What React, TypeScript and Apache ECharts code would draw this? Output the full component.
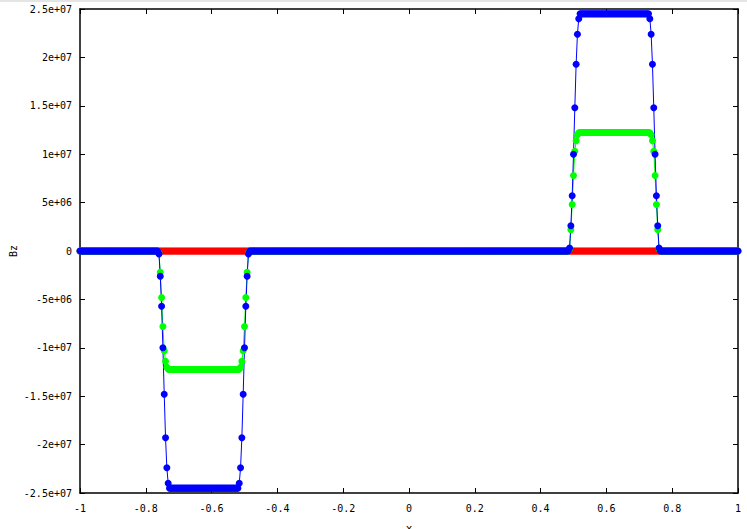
import React, { useEffect, useRef } from "react";
import * as echarts from "echarts";

// Mesh: x from -1 to 1, 501 nodes
const xFirst = -1;
const xStep = 0.004;
const nodeCount = 501;

// Run lengths of the regions along the mesh (node counts)
const zeroLeftCount = 60;
const plateauCount = 53;
const zeroMiddleCount = 243;
const zeroRightCount = 60;

// Values (Bz)
const redLevel = 0;
const blueEdge = [3e5, 2.6e6, 5.7e6, 1.0e7, 1.48e7, 1.93e7, 2.24e7, 2.4e7];
const bluePlateau = 2.45e7;
const greenEdge = [2e5, 2.2e6, 4.8e6, 7.8e6, 1.03e7, 1.14e7, 1.2e7, 1.22e7];
const greenPlateau = 1.225e7;

const xTicks = [-1, -0.8, -0.6, -0.4, -0.2, 0, 0.2, 0.4, 0.6, 0.8, 1];
const yMin = -2.5e7;
const yMax = 2.5e7;
const yInterval = 5e6;

function fill(n: number, v: number): number[] {
  return new Array(n).fill(v);
}

function profile(edge: number[], plateau: number): number[] {
  const neg = edge.map((v) => -v);
  const rev = [...edge].reverse();
  return [
    ...fill(zeroLeftCount, 0),
    ...neg,
    ...fill(plateauCount, -plateau),
    ...[...neg].reverse(),
    ...fill(zeroMiddleCount, 0),
    ...edge,
    ...fill(plateauCount, plateau),
    ...rev,
    ...fill(zeroRightCount, 0),
  ];
}

function toPairs(vals: number[]): number[][] {
  return vals.slice(0, nodeCount).map((v, i) => [+(xFirst + i * xStep).toFixed(4), v]);
}

function fmtExp(v: number): string {
  if (v === 0) return "0";
  const s = v.toExponential();
  const m = s.match(/^(-?[\d.]+)e([+-])(\d+)$/);
  if (!m) return s;
  const e = m[3].length < 2 ? "0" + m[3] : m[3];
  return `${m[1]}e${m[2]}${e}`;
}

export default function App() {
  const ref = useRef<HTMLDivElement>(null);
  useEffect(() => {
    if (!ref.current) return;
    document.body.style.margin = "0";
    document.body.style.overflow = "hidden";
    const chart = echarts.init(ref.current, undefined, { renderer: "svg", width: 747, height: 529 });
    const font = "DejaVu Sans Mono";
    const redData = toPairs(fill(nodeCount, redLevel));
    const greenData = toPairs(profile(greenEdge, greenPlateau));
    const blueData = toPairs(profile(blueEdge, bluePlateau));
    const mkSeries = (name: string, color: string, data: number[][]) => ({
      name,
      type: "line",
      data,
      symbol: "circle",
      symbolSize: 7,
      showSymbol: true,
      showAllSymbol: true,
      itemStyle: { color },
      lineStyle: { color, width: 1 },
      xAxisIndex: 0,
      yAxisIndex: 0,
    });
    chart.setOption({
      animation: false,
      backgroundColor: "#ffffff",
      graphic: [
        { type: "rect", left: 0, top: 0, shape: { width: 747, height: 2 }, style: { fill: "#e4e4e4" } },
      ],
      grid: { left: 80, right: 9, top: 9, bottom: 36, containLabel: false, outerBoundsMode: "none" },
      xAxis: [
        {
          type: "value",
          min: -1,
          max: 1,
          interval: 0.2,
          position: "bottom",
          name: "x",
          nameLocation: "middle",
          nameGap: 30,
          nameMoveOverlap: false,
          nameTextStyle: { fontFamily: font, fontSize: 11, color: "#000" },
          axisLine: { show: true, onZero: false, lineStyle: { color: "#000", width: 1.5 } },
          axisTick: { show: true, inside: true, length: 5, lineStyle: { color: "#000" } },
          axisLabel: {
            fontFamily: font,
            fontSize: 10,
            color: "#000",
            margin: 10,
            formatter: (v: number) => {
              const t = xTicks.find((k) => Math.abs(k - v) < 1e-9);
              return String(t !== undefined ? t : +v.toFixed(1));
            },
          },
          splitLine: { show: false },
        },
        {
          type: "value",
          min: -1,
          max: 1,
          interval: 0.2,
          position: "top",
          axisLine: { show: true, onZero: false, lineStyle: { color: "#000", width: 1.5 } },
          axisTick: { show: true, inside: true, length: 5, lineStyle: { color: "#000" } },
          axisLabel: { show: false },
          splitLine: { show: false },
        },
      ],
      yAxis: [
        {
          type: "value",
          min: yMin,
          max: yMax,
          interval: yInterval,
          position: "left",
          name: "Bz",
          nameLocation: "middle",
          nameGap: 62,
          nameRotate: 90,
          nameMoveOverlap: false,
          nameTextStyle: { fontFamily: font, fontSize: 10, color: "#000" },
          axisLine: { show: true, onZero: false, lineStyle: { color: "#000", width: 1.5 } },
          axisTick: { show: true, inside: true, length: 5, lineStyle: { color: "#000" } },
          axisLabel: { fontFamily: font, fontSize: 10, color: "#000", margin: 8, formatter: fmtExp },
          splitLine: { show: false },
        },
        {
          type: "value",
          min: yMin,
          max: yMax,
          interval: yInterval,
          position: "right",
          axisLine: { show: true, onZero: false, lineStyle: { color: "#000", width: 1.5 } },
          axisTick: { show: true, inside: true, length: 5, lineStyle: { color: "#000" } },
          axisLabel: { show: false },
          splitLine: { show: false },
        },
      ],
      series: [
        mkSeries("red", "#ff0000", redData),
        mkSeries("green", "#00ff00", greenData),
        mkSeries("blue", "#0000ff", blueData),
      ],
    });
    return () => chart.dispose();
  }, []);
  return (
    <div
      style={{ position: "absolute", left: 0, top: 0, width: 747, height: 529, overflow: "hidden" }}
    >
      <div ref={ref} style={{ width: 747, height: 529 }} />
    </div>
  );
}
